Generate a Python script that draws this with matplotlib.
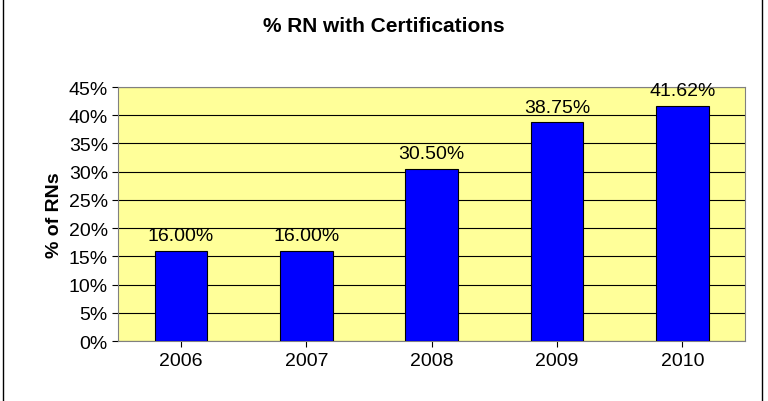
import matplotlib
matplotlib.use("Agg")
import matplotlib.pyplot as plt
from matplotlib.ticker import FuncFormatter

years = ["2006", "2007", "2008", "2009", "2010"]
values = [16.00, 16.00, 30.50, 38.75, 41.62]

plt.rcParams['font.family'] = ['Liberation Sans', 'DejaVu Sans']
fig = plt.figure(figsize=(7.68, 4.02), dpi=100)
fig.patch.set_facecolor('white')
ax = fig.add_axes([0.154, 0.149, 0.816, 0.632])
ax.set_facecolor('#ffff99')
x = range(len(years))
ax.bar(x, values, width=0.42, color='#0000ff', edgecolor='black', linewidth=0.8, zorder=3)
for i, v in zip(x, values):
    ax.text(i, v + 1.2, f"{v:.2f}%", ha='center', va='bottom', fontsize=14)
ax.set_xlim(-0.5, 4.5)
ax.set_ylim(0, 45)
ax.set_yticks(range(0, 46, 5))
ax.yaxis.set_major_formatter(FuncFormatter(lambda v, p: f"{int(v)}%"))
ax.grid(axis='y', color='black', linewidth=0.8, zorder=0)
ax.set_xticks(list(x))
ax.set_xticklabels(years)
ax.tick_params(labelsize=14, length=4)
for s in ax.spines.values():
    s.set_color('#808080')
ax.set_ylabel("% of RNs", fontsize=14, fontweight='bold')
fig.text(0.5, 0.933, "% RN with Certifications", ha='center', va='center', fontsize=15, fontweight='bold')
fig.add_artist(plt.Line2D([0.004, 0.004], [0, 1], transform=fig.transFigure, color='black', linewidth=1))
fig.add_artist(plt.Line2D([0.992, 0.992], [0, 1], transform=fig.transFigure, color='black', linewidth=1))
fig.savefig("out.png", dpi=100)
